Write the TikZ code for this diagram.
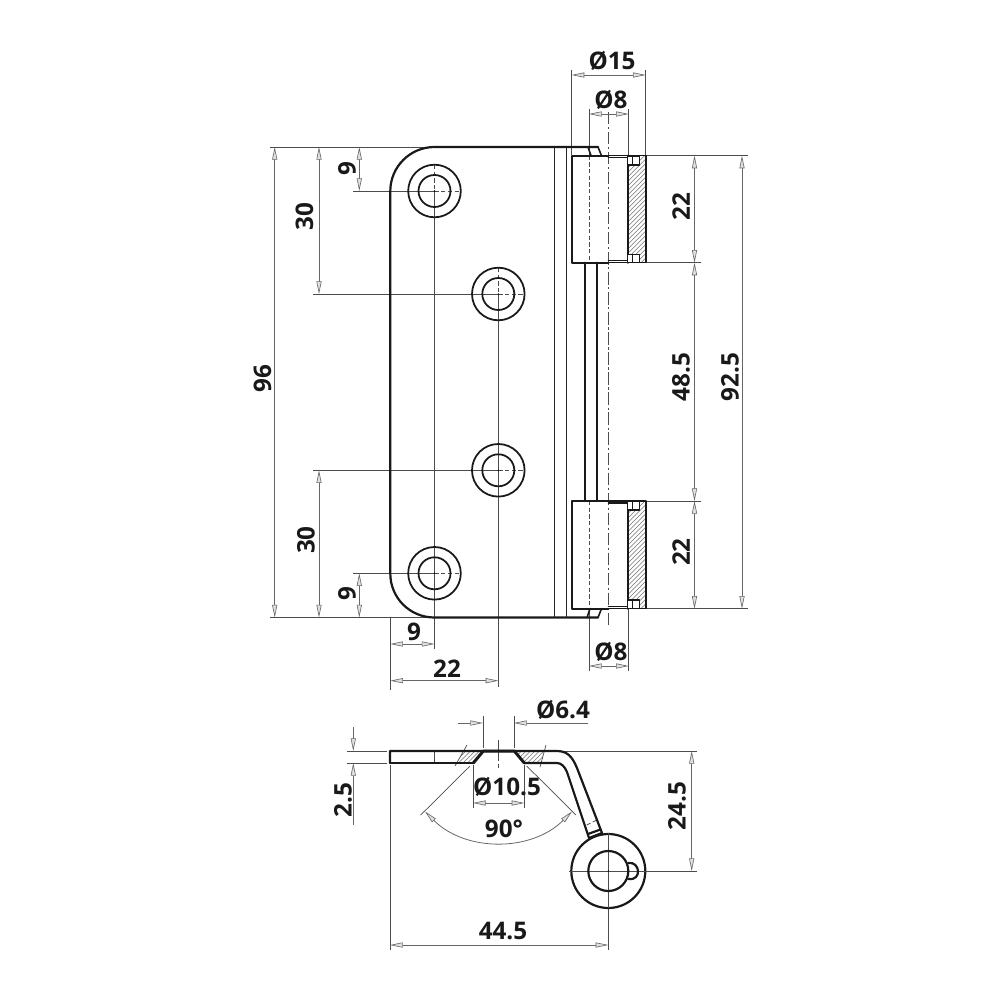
\documentclass[tikz,border=0pt]{standalone}
\usepackage{fontspec}
\setmainfont{Open Sans}
\usetikzlibrary{arrows.meta}
\tikzset{
  obj/.style={line width=1.25pt,black!90,line join=round,line cap=round},
  mid/.style={line width=.8pt,black!85},
  thin/.style={line width=.4pt,black!70},
  cline/.style={line width=.4pt,black!70,dash pattern=on 7pt off 1.6pt on 1.2pt off 1.6pt},
  hid/.style={line width=.4pt,black!70,dash pattern=on 2.4pt off 1.4pt},
  hatchl/.style={line width=.3pt,black!55},
  tipb/.tip={Triangle[length=7.2pt,width=2.9pt,fill=black!12,line width=.35pt]},
  dimn/.style={line width=.45pt,black!60},
  both/.style={dimn,{tipb}-{tipb}},
  endt/.style={dimn,-{tipb}},
  lab/.style={font=\bfseries\fontsize{13.8}{15}\selectfont,text=black!90,inner sep=0pt},
  labv/.style={lab,rotate=90}
}
\begin{document}
\begin{tikzpicture}[x=0.02cm,y=-0.02cm]
\path[use as bounding box,fill=white] (0,0) rectangle (1000,1000);

% --- hatching of the barrels
\foreach \ya/\yb in {156/262.7,501.5/608.5}{
  \begin{scope}
    \clip (628.3,\ya) rectangle (645.7,\yb);
    \foreach \k in {0,4.5,...,135}{
      \draw[hatchl] (515+\k,\yb) -- ++(120,-120);
    }
  \end{scope}
}

% --- thin extension lines, front view
\draw[thin] (270,147) -- (434,147);
\draw[thin] (270,617.5) -- (434,617.5);
\draw[thin] (353,191) -- (434.5,191);
\draw[hid] (434.5,191) -- (461,191);
\draw[thin] (313,294) -- (498.3,294);
\draw[hid] (498.3,294) -- (525,294);
\draw[thin] (313,470.3) -- (498.3,470.3);
\draw[hid] (498.3,470.3) -- (525,470.3);
\draw[thin] (353,573.3) -- (434.5,573.3);
\draw[hid] (434.5,573.3) -- (461,573.3);
\draw[hid] (434.5,165) -- (434.5,191);
\draw[thin] (434.5,191) -- (434.5,649);
\draw[hid] (498.3,268) -- (498.3,294);
\draw[thin] (498.3,294) -- (498.3,687);
\draw[thin] (390.3,617.5) -- (390.3,690);
\draw[thin] (571.7,70) -- (571.7,155);
\draw[thin] (645.7,70) -- (645.7,155);
\draw[thin] (589,109) -- (589,155);
\draw[thin] (628.7,109) -- (628.7,155);
\draw[thin] (589,609) -- (589,671);
\draw[thin] (628.7,609) -- (628.7,671);
\draw[thin] (645,155.7) -- (748,155.7);
\draw[thin] (645,262.7) -- (701,262.7);
\draw[thin] (645,501) -- (701,501);
\draw[thin] (645,608.7) -- (748,608.7);
\draw[cline] (608.3,112) -- (608.3,627);
\draw[hid] (589,155.7) -- (589,262.7);
\draw[hid] (589,501) -- (589,608.7);

% --- plate, front view
\draw[obj] (598,147) -- (434.5,147) .. controls (410,147) and (390.3,167) .. (390.3,191)
  -- (390.3,573.5) .. controls (390.3,598) and (410,617.5) .. (434.5,617.5) -- (598,617.5);
\draw[obj,line width=.9pt] (598,147) -- (601.5,155.7);
\draw[obj,line width=.9pt] (588,147) -- (591,155.7);
\draw[obj,line width=.9pt] (598,617.5) -- (601.5,608.7);
\draw[obj,line width=.9pt] (587,617.5) -- (590,608.7);
\draw[mid,line width=.5pt] (554.5,147) -- (554.5,617.5);
\draw[mid,line width=.5pt] (566,147) -- (566,617.5);
\draw[obj] (585,262.7) -- (585,501);
\draw[obj] (596.7,262.7) -- (596.7,501);

% --- holes
\foreach \cx/\cy in {434.5/191,498.3/294,498.3/470.3,434.5/573.3}{
  \draw[obj,line width=1pt] (\cx,\cy) circle[radius=26.3];
  \draw[obj,line width=1pt] (\cx,\cy) circle[radius=16];
  \fill[black] (\cx,\cy) circle[radius=.8];
}

% --- barrels
\foreach \ya/\yb/\yc/\yd in {155.7/262.7/157.6/260.8,501/608.7/502.9/606.8}{
  \draw[obj,line width=.7pt] (608.3,\yc) -- (628.3,\yc);
  \draw[obj,line width=.7pt] (608.3,\yd) -- (628.3,\yd);
  \draw[obj] (608.3,\yb) -- (571.7,\yb) -- (571.7,\ya) -- (608.3,\ya);
  \draw[obj,line width=.9pt] (608.3,\ya) -- (645.7,\ya) -- (645.7,\yb) -- (608.3,\yb);
  \draw[obj] (628.3,\ya) -- (628.3,\yb);
}
\foreach \ya/\yb in {156.2/165,254.3/262.4,501.3/510,600/608.4}{
  \draw[obj,line width=.9pt,fill=white] (627.3,\ya) rectangle (639.3,\yb);
  \draw[obj,line width=.7pt] (632.2,\ya) -- (632.2,\yb);
}

% --- dimensions, front view
\draw[both] (274.7,147) -- (274.7,617.5);
\draw[both] (319,147) -- (319,294);
\draw[both] (319,470.3) -- (319,617.5);
\draw[both] (359.3,147) -- (359.3,191);
\draw[both] (359.3,573.3) -- (359.3,617.5);
\draw[both] (390.3,644) -- (434.5,644);
\draw[both] (390.3,680.7) -- (498.3,680.7);
\draw[both] (571.7,75) -- (645.7,75);
\draw[both] (589,114) -- (628.7,114);
\draw[both] (589,666) -- (628.7,666);
\draw[both] (694.5,155.7) -- (694.5,262.7);
\draw[both] (694.5,608.7) -- (694.5,501);
\draw[both] (694.5,262.7) -- (694.5,501);
\draw[both] (742,155.7) -- (742,608.7);

\node[labv] (d96) at (262.5,379) {96};
\node[labv] (d30a) at (304.5,217) {30};
\node[labv] (d9a) at (347,169) {9};
\node[labv] (d30b) at (306,540) {30};
\node[labv] (d9b) at (347,594) {9};
\node[lab] (d9c) at (414,631.5) {9};
\node[lab] (d22c) at (447,669) {22};
\node[lab] (dO15) at (612,60.5) {Ø15};
\node[lab] (dO8a) at (611,100) {Ø8};
\node[lab] (dO8b) at (611,652) {Ø8};
\node[labv] (d22a) at (681,207) {22};
\node[labv] (d485) at (681,377) {48.5};
\node[labv] (d925) at (730,377) {92.5};
\node[labv] (d22b) at (681,552) {22};

% --- side view: hatching
\begin{scope}
  \clip (463.6,751) -- (483.3,751) -- (473.3,763) -- (456.7,763) -- cycle;
  \foreach \k in {0,4.5,...,50}{\draw[hatchl] (445+\k,763) -- ++(14,-14);}
\end{scope}
\begin{scope}
  \clip (514.3,751) -- (544.4,751) -- (541,763) -- (524.3,763) -- cycle;
  \foreach \k in {0,4.5,...,50}{\draw[hatchl] (505+\k,763) -- ++(14,-14);}
\end{scope}

% --- side view: thin lines
\draw[thin] (467,745) -- (455,766);
\draw[thin] (546,745) -- (540,767);
\draw[thin] (434.3,751) -- (434.3,763);
\draw[thin] (347,751) -- (387,751);
\draw[thin] (347,763) -- (387,763);
\draw[thin] (556,751) -- (697,751);
\draw[thin] (390,765) -- (390,950);
\draw[thin] (482.9,716) -- (482.9,748);
\draw[thin] (514,716) -- (514,748);
\draw[thin] (472.9,765) -- (472.9,808);
\draw[thin] (524.3,765) -- (524.3,808);
\draw[thin] (470,766) -- (420.7,815);
\draw[thin] (526.7,766) -- (576,815);
\draw[thin] (498.5,740) -- (498.5,757);
\draw[hid] (498.5,757) -- (498.5,770);
\draw[hid] (586.7,825) -- (596.7,820);
\draw[thin] (569,871) -- (697,871);
\draw[thin] (608.3,833) -- (608.3,950);

% --- side view: leaf
\draw[obj] (390,763) -- (390,751) -- (556.7,751) .. controls (567,751) and (572,756) .. (577,768) -- (602,833);
\draw[obj] (390,763) -- (473.3,763);
\draw[obj,line width=1.7pt] (473.3,763) -- (483.3,751) -- (514.3,751) -- (524.3,763);
\draw[obj] (524.3,763) -- (556.7,763) .. controls (561,763) and (564.5,766) .. (567,772) -- (589,838);
\draw[obj] (589,838) -- (602,833);
\draw[obj] (588,834) -- (600.5,829.5);

% --- side view: ring
\draw[obj,fill=white] (608.3,871) circle[radius=37];
\draw[thin] (569,871) -- (647,871);
\draw[thin] (608.3,833) -- (608.3,908);
\draw[obj] (628.3,863) .. controls (640,861) and (642.5,881) .. (628.3,879);
\draw[obj] (608.3,871) circle[radius=20];
\fill[black] (608.3,871) circle[radius=.8];

% --- side view: dimensions
\draw[endt] (353.3,727) -- (353.3,751);
\draw[endt] (353.3,825) -- (353.3,763);
\draw[endt] (458,723) -- (482.9,723);
\draw[endt] (588,723) -- (514,723);
\draw[both] (472.9,803) -- (524.3,803);
\draw[both] (425,811.5) .. controls (465.6,852.1) and (531.4,852.1) .. (572,811.5);
\draw[both] (691.7,751) -- (691.7,871);
\draw[both] (390,945) -- (608.3,945);

\node[labv] (d25) at (343,800) {2.5};
\node[lab] (dO64) at (563,710) {Ø6.4};
\node[lab] (dO105) at (507,787) {Ø10.5};
\node[lab] (d90) at (504,829) {90°};
\node[labv] (d245) at (677,806) {24.5};
\node[lab] (d445) at (503,931) {44.5};
\end{tikzpicture}
\end{document}
